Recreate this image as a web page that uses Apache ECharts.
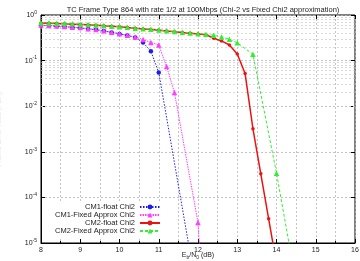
<!DOCTYPE html>
<html>
<head>
<meta charset="utf-8">
<script src="https://cdn.jsdelivr.net/npm/echarts@6/dist/echarts.min.js"></script>
<style>
  html, body { margin: 0; padding: 0; background: #fff; }
  #chart { width: 360px; height: 261px; }
</style>
</head>
<body>
<div id="chart"></div>
<script>
// values (Eb/N0 in dB, frame error rate)
const snrCm1Float = [8.0, 8.2, 8.4, 8.6, 8.8, 9.0, 9.2, 9.4, 9.6, 9.8, 10.0, 10.2, 10.4, 10.6, 10.8, 11.0, 11.8]
const ferCm1Float = [0.59, 0.58, 0.57, 0.555, 0.535, 0.52, 0.495, 0.475, 0.445, 0.415, 0.385, 0.355, 0.32, 0.25, 0.16, 0.055, 6e-6]

const snrCm1Fixed = [8.0, 8.2, 8.4, 8.6, 8.8, 9.0, 9.2, 9.4, 9.6, 9.8, 10.0, 10.2, 10.4, 10.6, 10.8, 11.0, 11.2, 11.4, 12.0, 12.2]
const ferCm1Fixed = [0.60, 0.59, 0.58, 0.56, 0.54, 0.53, 0.50, 0.48, 0.45, 0.42, 0.39, 0.36, 0.33, 0.29, 0.25, 0.22, 0.074, 0.02, 2.8e-5, 5e-8]

const snrCm2Float = [8.0, 8.2, 8.4, 8.6, 8.8, 9.0, 9.2, 9.4, 9.6, 9.8, 10.0, 10.2, 10.4, 10.6, 10.8, 11.0, 11.2, 11.4, 11.6, 11.8, 12.0, 12.2, 12.4, 12.6, 12.8, 13.0, 13.2, 13.4, 13.6, 13.8, 14.0]
const ferCm2Float = [0.67, 0.66, 0.65, 0.64, 0.63, 0.62, 0.61, 0.595, 0.58, 0.565, 0.55, 0.535, 0.51, 0.495, 0.48, 0.465, 0.445, 0.43, 0.415, 0.40, 0.385, 0.37, 0.31, 0.27, 0.22, 0.14, 0.052, 3.2e-3, 3.3e-4, 3.4e-5, 3.5e-6]

const snrCm2Fixed = [8.0, 8.2, 8.4, 8.6, 8.8, 9.0, 9.2, 9.4, 9.6, 9.8, 10.0, 10.2, 10.4, 10.6, 10.8, 11.0, 11.2, 11.4, 11.6, 11.8, 12.0, 12.2, 12.4, 12.6, 12.8, 13.0, 13.4, 14.0, 14.4]
const ferCm2Fixed = [0.68, 0.67, 0.66, 0.65, 0.64, 0.63, 0.62, 0.60, 0.59, 0.57, 0.555, 0.54, 0.515, 0.50, 0.485, 0.47, 0.45, 0.435, 0.42, 0.405, 0.39, 0.38, 0.36, 0.33, 0.295, 0.245, 0.138, 3.4e-4, 4e-6]

// minor log grid values (2..9 per decade)
const minorY = []
const decades = [1e-5, 1e-4, 1e-3, 1e-2, 1e-1]
decades.forEach(d => {
  [2, 3, 4, 5, 6, 7, 8, 9].forEach(m => minorY.push(m * d))
})

const font = 'Liberation Sans, Arial, sans-serif'
const pair = (xs, ys) => xs.map((x, i) => [x, ys[i]])

const chart = echarts.init(document.getElementById('chart'))

const gridDash = { color: '#b4b4b4', type: [2, 2], width: 0.8 }

const option = {
  animation: false,
  title: {
    text: 'TC Frame Type 864 with rate 1/2 at 100Mbps (Chi-2 vs Fixed Chi2 approximation)',
    left: 198,
    top: 1,
    textAlign: 'center',
    textStyle: { fontFamily: font, fontSize: 7.5, fontWeight: 'normal', color: '#222' }
  },
  grid: {
    left: 41,
    right: 5,
    top: 15,
    bottom: 18,
    outerBoundsMode: 'none',
    containLabel: false,
    show: true,
    borderColor: '#000',
    borderWidth: 1
  },
  legend: {
    orient: 'vertical',
    align: 'right',
    right: 197,
    bottom: 24,
    padding: [2, 2, 2, 2],
    backgroundColor: '#fff',
    itemWidth: 20,
    itemHeight: 6,
    itemGap: 0,
    textStyle: { fontFamily: font, fontSize: 7.5, lineHeight: 8, color: '#222' },
    data: ['CM1-float Chi2', 'CM1-Fixed Approx Chi2', 'CM2-float Chi2', 'CM2-Fixed Approx Chi2']
  },
  xAxis: [
    {
      type: 'value',
      min: 8,
      max: 16,
      interval: 1,
      name: '{n|E}{s|b}{n|/N}{s|0}{n| (dB)}',
      nameLocation: 'middle',
      nameGap: 8,
      nameMoveOverlap: false,
      nameTextStyle: {
        rich: {
          n: { fontFamily: font, fontSize: 7, color: '#222', lineHeight: 9 },
          s: { fontFamily: font, fontSize: 5, color: '#222', verticalAlign: 'bottom' }
        }
      },
      axisLine: { lineStyle: { color: '#000', width: 1 } },
      axisTick: { inside: true, length: 4, lineStyle: { color: '#000' } },
      minorTick: { show: true, splitNumber: 2, length: 2, lineStyle: { color: '#000' } },
      axisLabel: { fontFamily: font, fontSize: 7, color: '#222', margin: 4 },
      splitLine: { show: true, lineStyle: gridDash },
      minorSplitLine: { show: true, lineStyle: gridDash }
    },
    {
      type: 'value',
      position: 'top',
      min: 8,
      max: 16,
      interval: 1,
      axisLine: { show: false },
      axisTick: { inside: true, length: 4, lineStyle: { color: '#000' } },
      minorTick: { show: true, splitNumber: 2, length: 2, lineStyle: { color: '#000' } },
      axisLabel: { show: false },
      splitLine: { show: false }
    }
  ],
  yAxis: [
    {
      type: 'log',
      logBase: 10,
      min: 1e-5,
      max: 1,
      name: 'Frame Error Rate (FER)',
      nameLocation: 'middle',
      nameGap: 38,
      nameMoveOverlap: false,
      nameTextStyle: { fontFamily: font, fontSize: 7, color: '#e6e6e6' },
      axisLine: { lineStyle: { color: '#000', width: 1 } },
      axisTick: { inside: true, length: 4, lineStyle: { color: '#000' } },
      axisLabel: {
        margin: 4,
        formatter: v => '{b|10}{s|' + Math.round(Math.log10(v)) + '}',
        rich: {
          b: { fontFamily: font, fontSize: 7, color: '#222', lineHeight: 10 },
          s: { fontFamily: font, fontSize: 5, color: '#222', verticalAlign: 'top' }
        }
      },
      splitLine: { show: true, lineStyle: gridDash }
    },
    {
      type: 'log',
      logBase: 10,
      min: 1e-5,
      max: 1,
      position: 'right',
      axisLine: { show: false },
      axisTick: { inside: true, length: 4, lineStyle: { color: '#000' } },
      axisLabel: { show: false },
      splitLine: { show: false }
    }
  ],
  series: [
    {
      name: 'CM1-float Chi2',
      type: 'line',
      data: pair(snrCm1Float, ferCm1Float),
      symbol: 'circle',
      symbolSize: 4.5,
      color: '#1c1cf0',
      lineStyle: { width: 1, type: [1.5, 1.5] },
      clip: true,
      markLine: {
        silent: true,
        symbol: 'none',
        z: 1,
        label: { show: false },
        lineStyle: { color: '#c4c4c4', type: [2, 2], width: 0.6 },
        data: minorY.map(v => ({ yAxis: v }))
      }
    },
    {
      name: 'CM1-Fixed Approx Chi2',
      type: 'line',
      data: pair(snrCm1Fixed, ferCm1Fixed),
      symbol: 'triangle',
      symbolSize: 5.5,
      color: '#ff40ff',
      lineStyle: { width: 1, type: [1.5, 1] },
      clip: true
    },
    {
      name: 'CM2-float Chi2',
      type: 'line',
      data: pair(snrCm2Float, ferCm2Float),
      symbol: 'circle',
      symbolSize: 3.5,
      color: '#ee1111',
      lineStyle: { width: 1.5, type: 'solid' },
      clip: true
    },
    {
      name: 'CM2-Fixed Approx Chi2',
      type: 'line',
      data: pair(snrCm2Fixed, ferCm2Fixed),
      symbol: 'triangle',
      symbolSize: 5.5,
      color: '#33ee33',
      lineStyle: { width: 1, type: [3, 2] },
      clip: true
    }
  ]
}

chart.setOption(option)
</script>
</body>
</html>
